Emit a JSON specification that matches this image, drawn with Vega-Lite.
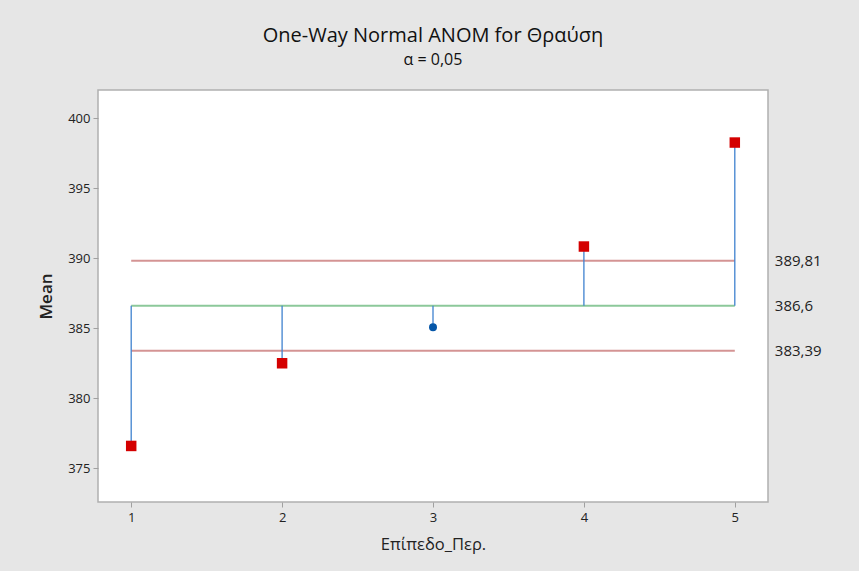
{
  "$schema": "https://vega.github.io/schema/vega-lite/v6.json",
  "autosize": {"type": "none"},
  "width": 670,
  "height": 412,
  "padding": {"left": 98, "top": 90, "right": 91, "bottom": 69},
  "background": "#e6e6e6",
  "title": {
    "text": "One-Way Normal ANOM for Θραύση",
    "subtitle": "α = 0,05",
    "anchor": "middle",
    "font": "Open Sans",
    "fontSize": 20,
    "fontWeight": "normal",
    "color": "#111111",
    "subtitleFont": "Open Sans",
    "subtitleFontSize": 16,
    "subtitleColor": "#111111",
    "subtitlePadding": 6,
    "offset": 22
  },
  "config": {
    "view": {"fill": "white", "stroke": "#b0b0b0", "strokeWidth": 1.5},
    "axis": {
      "labelFont": "Open Sans",
      "titleFont": "Open Sans",
      "labelColor": "#222222",
      "titleColor": "#222222",
      "labelFontSize": 13,
      "titleFontSize": 16,
      "titleFontWeight": "normal",
      "tickColor": "#a0a0a0",
      "tickSize": 5,
      "domain": false,
      "grid": false
    }
  },
  "datasets": {
    "means": [
      {"level": 1, "mean": 376.6, "center": 386.6, "status": "outside"},
      {"level": 2, "mean": 382.5, "center": 386.6, "status": "outside"},
      {"level": 3, "mean": 385.07, "center": 386.6, "status": "inside"},
      {"level": 4, "mean": 390.83, "center": 386.6, "status": "outside"},
      {"level": 5, "mean": 398.25, "center": 386.6, "status": "outside"}
    ],
    "limits": [
      {"name": "UDL", "value": 389.81, "label": "389,81"},
      {"name": "CL", "value": 386.6, "label": "386,6"},
      {"name": "LDL", "value": 383.39, "label": "383,39"}
    ]
  },
  "layer": [
    {
      "data": {"name": "limits"},
      "mark": {"type": "rule", "strokeWidth": 2},
      "encoding": {
        "x": {"datum": 1, "type": "quantitative"},
        "x2": {"datum": 5},
        "y": {"field": "value", "type": "quantitative"},
        "color": {
          "field": "name",
          "type": "nominal",
          "scale": {"domain": ["UDL", "CL", "LDL"], "range": ["#d49494", "#8cc89a", "#d49494"]},
          "legend": null
        }
      }
    },
    {
      "data": {"name": "means"},
      "mark": {"type": "rule", "strokeWidth": 1.3, "color": "#3f82cf"},
      "encoding": {
        "x": {"field": "level", "type": "quantitative"},
        "y": {"field": "mean", "type": "quantitative"},
        "y2": {"field": "center"}
      }
    },
    {
      "data": {"name": "means"},
      "mark": {"type": "point", "filled": true, "opacity": 1},
      "encoding": {
        "x": {
          "field": "level",
          "type": "quantitative",
          "scale": {"domain": [0.78, 5.22], "nice": false, "zero": false},
          "axis": {"values": [1, 2, 3, 4, 5], "format": "d", "title": "Επίπεδο_Περ.", "labelPadding": 4, "titlePadding": 12, "titleFontSize": 16.5}
        },
        "y": {
          "field": "mean",
          "type": "quantitative",
          "scale": {"domain": [372.6, 402.0], "nice": false, "zero": false},
          "axis": {"values": [375, 380, 385, 390, 395, 400], "title": "Mean", "labelPadding": 3, "titlePadding": 12, "titleFontSize": 17, "titleFontWeight": 600}
        },
        "shape": {
          "field": "status",
          "type": "nominal",
          "scale": {"domain": ["outside", "inside"], "range": ["square", "circle"]},
          "legend": null
        },
        "color": {
          "field": "status",
          "type": "nominal",
          "scale": {"domain": ["outside", "inside"], "range": ["#d40000", "#0556a8"]},
          "legend": null
        },
        "size": {
          "field": "status",
          "type": "nominal",
          "scale": {"domain": ["outside", "inside"], "range": [110, 64]},
          "legend": null
        }
      }
    },
    {
      "data": {"name": "limits"},
      "mark": {"type": "text", "align": "left", "baseline": "middle", "dx": 40, "font": "Open Sans", "fontSize": 15, "color": "#222222"},
      "encoding": {
        "x": {"datum": 5, "type": "quantitative"},
        "y": {"field": "value", "type": "quantitative"},
        "text": {"field": "label"}
      }
    }
  ],
  "resolve": {"scale": {"color": "independent"}}
}
